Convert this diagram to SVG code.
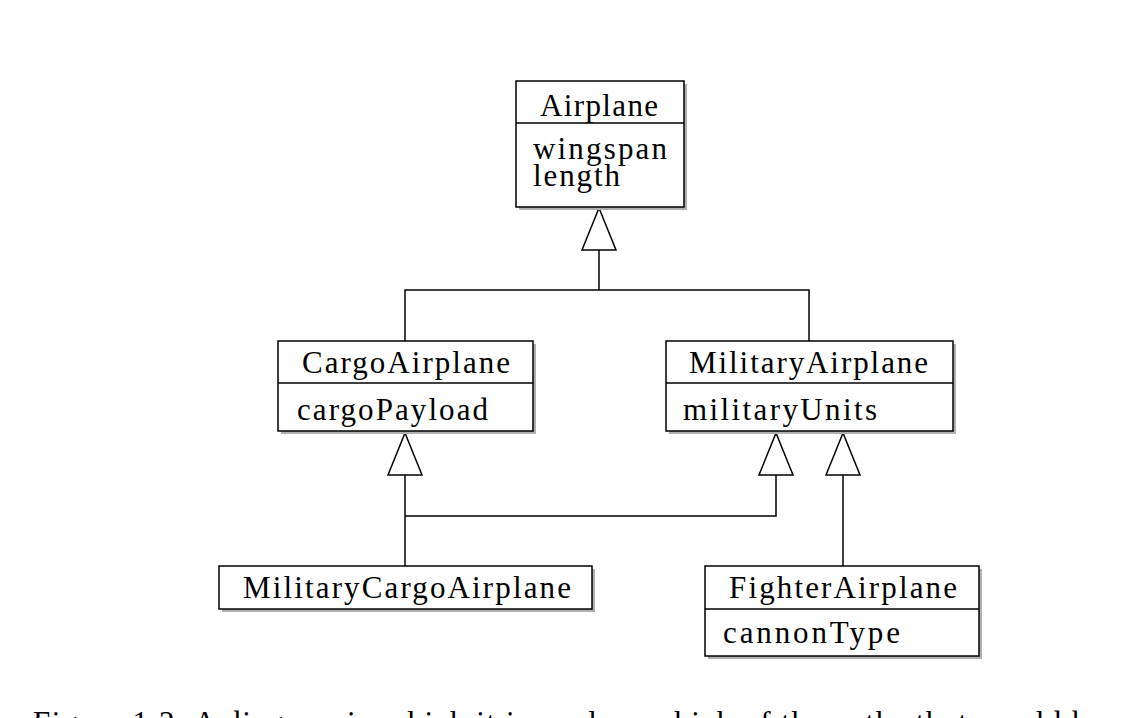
<svg xmlns="http://www.w3.org/2000/svg" width="1124" height="718" viewBox="0 0 1124 718">
<style>
.box{fill:#fff;stroke:#000;stroke-width:1.5}
.shadow{fill:#b0b0b0}
.div{stroke:#000;stroke-width:1.5}
.t{font-family:"Liberation Serif","Times New Roman",serif;font-size:31px;fill:#000}
.conn{fill:none;stroke:#000;stroke-width:1.5}
</style>
<defs>
<marker id="gen" markerUnits="userSpaceOnUse" viewBox="-2 -2 46 38" refX="42" refY="17" markerWidth="46" markerHeight="38" orient="auto" overflow="visible">
<path d="M0,0 L42,17 L0,34 Z" fill="#fff" stroke="#000" stroke-width="1.5"/>
</marker>
</defs>
<rect width="1124" height="718" fill="#fff"/>
<g id="connectors">
<path class="conn" d="M405,341 V290 H809 V341"/>
<path class="conn" d="M599,290 V208" marker-end="url(#gen)"/>
<path class="conn" d="M405,566 V433" marker-end="url(#gen)"/>
<path class="conn" d="M405,516 H776 V433" marker-end="url(#gen)"/>
<path class="conn" d="M843,566 V433" marker-end="url(#gen)"/>
</g>
<g id="Airplane">
<rect class="shadow" x="519" y="84" width="168" height="126"/>
<rect class="box" x="516" y="81" width="168" height="126"/>
<line class="div" x1="516" y1="123" x2="684" y2="123"/>
<text class="t" x="540" y="116" textLength="118">Airplane</text>
<text class="t" x="533" y="159" textLength="134">wingspan</text>
<text class="t" x="533" y="186" textLength="87">length</text>
</g>
<g id="CargoAirplane">
<rect class="shadow" x="281" y="344" width="255" height="90"/>
<rect class="box" x="278" y="341" width="255" height="90"/>
<line class="div" x1="278" y1="383" x2="533" y2="383"/>
<text class="t" x="302" y="373" textLength="208">CargoAirplane</text>
<text class="t" x="297" y="420" textLength="191">cargoPayload</text>
</g>
<g id="MilitaryAirplane">
<rect class="shadow" x="669" y="344" width="287" height="90"/>
<rect class="box" x="666" y="341" width="287" height="90"/>
<line class="div" x1="666" y1="383" x2="953" y2="383"/>
<text class="t" x="689" y="373" textLength="239">MilitaryAirplane</text>
<text class="t" x="683" y="420" textLength="194">militaryUnits</text>
</g>
<g id="MilitaryCargoAirplane">
<rect class="shadow" x="222" y="569" width="373" height="43"/>
<rect class="box" x="219" y="566" width="373" height="43"/>
<text class="t" x="243" y="598" textLength="328">MilitaryCargoAirplane</text>
</g>
<g id="FighterAirplane">
<rect class="shadow" x="708" y="569" width="274" height="90"/>
<rect class="box" x="705" y="566" width="274" height="90"/>
<line class="div" x1="705" y1="609" x2="979" y2="609"/>
<text class="t" x="729" y="598" textLength="228">FighterAirplane</text>
<text class="t" x="723" y="643" textLength="177">cannonType</text>
</g>
<text class="t" x="33" y="733" textLength="1070" style="font-size:31px">Figure 1.2: A diagram in which it is unclear which of the paths that would be</text>
</svg>
